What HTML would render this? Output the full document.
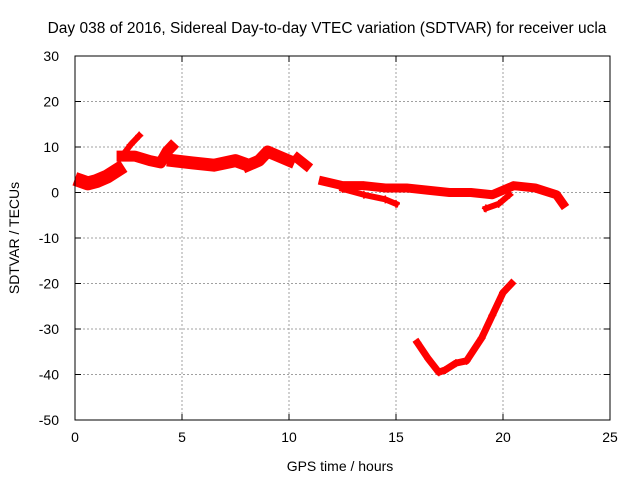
<!DOCTYPE html>
<html><head><meta charset="utf-8"><style>
body{margin:0;background:#fff}
svg{display:block;font-family:"Liberation Sans",sans-serif}
</style></head><body>
<svg id="chart" width="640" height="480" viewBox="0 0 640 480">
<text x="327" y="33" font-size="15.5" text-anchor="middle">Day 038 of 2016, Sidereal Day-to-day VTEC variation (SDTVAR) for receiver ucla</text>
<text transform="translate(19,238) rotate(-90)" font-size="14" text-anchor="middle">SDTVAR / TECUs</text>
<text x="340" y="471" font-size="14" text-anchor="middle">GPS time / hours</text>
<g id="grid"></g><g id="data"></g><g id="axes"></g>
</svg>
<script>
const xTicks=[0,5,10,15,20,25];
const yTicks=[30,20,10,0,-10,-20,-30,-40,-50];
const seg1=[[0.3,2.5],[0.6,2],[1.0,2.5],[1.5,3.5],[2.0,5]];
const seg2=[[2.2,8],[2.6,10.5],[3.0,12.5]];
const seg3=[[2.2,8],[2.8,8],[3.5,7],[4.0,6.5],[4.3,9],[4.5,10]];
const seg4=[[4.6,7],[5.5,6.5],[6.5,6],[7.5,7],[7.8,6.5]];
const seg5=[[8.1,6],[8.6,7],[9.0,9],[9.5,8],[10,7]];
const seg6=[[10.4,7.5],[10.8,6]];
const seg7=[[11.6,2.5],[12.5,1.5],[13.5,1.5],[14.5,1],[15.5,1],[16.5,0.5],[17.5,0],[18.5,0],[19.5,-0.5],[20.5,1.5],[21.5,1],[22.5,-0.5],[22.8,-2.5]];
const seg8=[[12.5,0.8],[13.5,-0.5],[14.5,-1.5],[15.0,-2.5]];
const seg9=[[19.2,-3.5],[19.8,-2.5],[20.3,-0.5]];
const seg10=[[16.0,-33],[16.5,-36.5],[17.0,-39.5],[17.3,-39],[17.8,-37.5],[18.3,-37],[19.0,-32],[19.5,-27],[20.0,-22],[20.4,-20]];
const X0=75,X1=610,Y0=420,Y1=56;
const xs=t=>X0+(t-0)/(25-0)*(X1-X0);
const ys=v=>Y0-(v+50)/(30+50)*(Y0-Y1);
const NS="http://www.w3.org/2000/svg";
const grid=document.getElementById('grid'),axes=document.getElementById('axes'),data=document.getElementById('data');
function mk(tag,attrs,parent){const e=document.createElementNS(NS,tag);for(const k in attrs)e.setAttribute(k,attrs[k]);parent.appendChild(e);return e;}
xTicks.forEach(t=>{
 const x=xs(t);
 if(t>0&&t<25){const g=mk('line',{x1:x,x2:x,y1:Y1,y2:Y0,stroke:'#a0a0a0','stroke-dasharray':'2,2'},grid);
 
 }
 mk('line',{x1:x,x2:x,y1:Y0,y2:Y0-6,stroke:'#000'},axes);
 mk('line',{x1:x,x2:x,y1:Y1,y2:Y1+6,stroke:'#000'},axes);
 const l=mk('text',{x:x,y:Y0+22,'font-size':14,'text-anchor':'middle'},axes);l.textContent=t;
 
 
});
yTicks.forEach(v=>{
 const y=ys(v);
 if(v>-50&&v<30){const g=mk('line',{x1:X0,x2:X1,y1:y,y2:y,stroke:'#a0a0a0','stroke-dasharray':'2,2'},grid);
 
 }
 mk('line',{x1:X0,x2:X0+6,y1:y,y2:y,stroke:'#000'},axes);
 mk('line',{x1:X1,x2:X1-6,y1:y,y2:y,stroke:'#000'},axes);
 const l=mk('text',{x:X0-16,y:y+5,'font-size':14,'text-anchor':'end'},axes);l.textContent=v;
 
 
});
const fr=mk('rect',{x:X0,y:Y1,width:X1-X0,height:Y0-Y1,fill:'none',stroke:'#000'},axes);


const segs=[seg1,seg2,seg3,seg4,seg5,seg6,seg7,seg8,seg9,seg10];
const widths=[14,6,11,13,12,10,9,6,6,7];
segs.forEach((s,i)=>{
 const p=mk('polyline',{points:s.map(d=>xs(d[0])+','+ys(d[1])).join(' '),fill:'none',stroke:'#f00','stroke-width':widths[i],'stroke-linejoin':'round','stroke-linecap':'square'},data);
 
 
 s.forEach(d=>{const m=mk('path',{d:`M${xs(d[0])-4},${ys(d[1])}h8M${xs(d[0])},${ys(d[1])-4}v8`,stroke:'#f00','stroke-width':1.5},data);
 
 });
});
</script>
</body></html>
